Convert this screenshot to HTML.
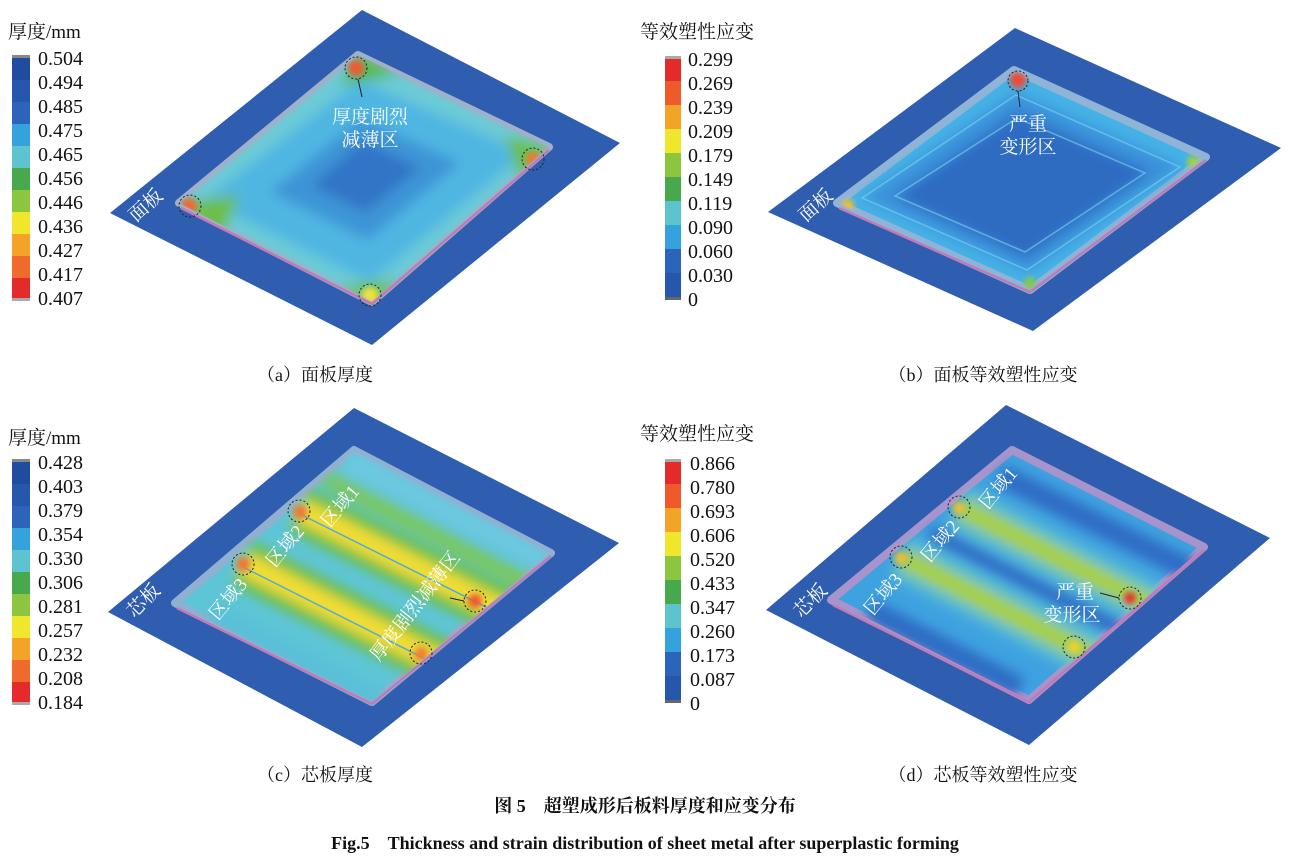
<!DOCTYPE html>
<html><head><meta charset="utf-8"><style>
html,body{margin:0;padding:0;background:#fff;}
svg{display:block;}
.t{font-family:"Liberation Serif","Noto Serif CJK SC","Noto Sans CJK SC",serif;}
</style></head><body>
<svg width="1291" height="864" viewBox="0 0 1291 864" xmlns="http://www.w3.org/2000/svg">
<defs>
<filter id="bl" x="-20%" y="-20%" width="140%" height="140%"><feGaussianBlur stdDeviation="6"/></filter>
<filter id="bl2" x="-20%" y="-20%" width="140%" height="140%"><feGaussianBlur stdDeviation="3"/></filter>
<clipPath id="ca"><polygon points="358,55 549,147 372,302 179,203"/></clipPath>
<clipPath id="cb"><polygon points="1014,70 1206,157 1030,290 837,203"/></clipPath>
<clipPath id="cc"><polygon points="354,450 551,553 372,702 175,603"/></clipPath>
<clipPath id="cd"><polygon points="1012,450 1204,547 1029,700 831,600"/></clipPath>
</defs>

<!-- ===== Panel a ===== -->
<polygon points="362,10 620,143 372,345 110,213" fill="#2f5db0"/>
<polygon points="358,55 549,147 372,302 179,203" fill="#6ccbd6" stroke="#9fb0c8" stroke-width="8" stroke-linejoin="round"/>
<g clip-path="url(#ca)">
<g filter="url(#bl)">
<polygon points="358,55 549,147 372,302 179,203" fill="#6ccbd6"/>
<polygon points="360,80 525,153 370,282 205,200" fill="#4fb6e2"/>
<polygon points="362,118 460,163 368,240 270,192" fill="#3c94d6"/>
<polygon points="363,140 420,168 366,212 312,186" fill="#3174c6"/>
<polygon points="358,55 400,75 340,85" fill="#5cb84a"/>
<polygon points="179,203 240,195 220,240" fill="#6cbf4a"/>
<polygon points="549,147 520,180 505,135" fill="#6cbf4a"/>
<polygon points="372,302 340,285 400,280" fill="#6cbf4a"/>
</g>
<circle cx="356" cy="68" r="8" fill="#f05a30" filter="url(#bl2)"/>
<circle cx="189" cy="206" r="8" fill="#f06a30" filter="url(#bl2)"/>
<circle cx="533" cy="159" r="7" fill="#f07a30" filter="url(#bl2)"/>
<circle cx="370" cy="295" r="8" fill="#f2e040" filter="url(#bl2)"/>
</g>
<polyline points="181,208 372,304 549,150" fill="none" stroke="#c07ab8" stroke-width="2.5"/>
<g fill="none" stroke="#222" stroke-width="1" stroke-dasharray="2,2">
<circle cx="356" cy="68" r="11"/><circle cx="190" cy="206" r="11"/><circle cx="533" cy="159" r="11"/><circle cx="370" cy="295" r="11"/>
</g>
<line x1="358" y1="79" x2="362" y2="97" stroke="#222" stroke-width="1"/>
<text class="t" x="370" y="123" font-size="19" fill="#fff" text-anchor="middle">厚度剧烈</text>
<text class="t" x="370" y="146" font-size="19" fill="#fff" text-anchor="middle">减薄区</text>
<text class="t" x="150" y="210" font-size="19" fill="#fff" transform="rotate(-42 150 210)" text-anchor="middle">面板</text>

<!-- legend a -->
<text class="t" x="8" y="38" font-size="19" fill="#111">厚度/mm</text>
<g>
<rect x="12" y="55" width="18" height="3" fill="#888"/>
<rect x="12" y="58" width="18" height="22" fill="#1f4c9e"/>
<rect x="12" y="80" width="18" height="22" fill="#2657ad"/>
<rect x="12" y="102" width="18" height="22" fill="#2b64ba"/>
<rect x="12" y="124" width="18" height="22" fill="#34a2dc"/>
<rect x="12" y="146" width="18" height="22" fill="#5cc3cf"/>
<rect x="12" y="168" width="18" height="22" fill="#47a94b"/>
<rect x="12" y="190" width="18" height="22" fill="#8cc63f"/>
<rect x="12" y="212" width="18" height="22" fill="#f0e62c"/>
<rect x="12" y="234" width="18" height="22" fill="#f3a328"/>
<rect x="12" y="256" width="18" height="22" fill="#ef6a2b"/>
<rect x="12" y="278" width="18" height="20" fill="#e42a2a"/>
<rect x="12" y="298" width="18" height="3" fill="#aaa"/>
</g>
<g class="t" font-size="20" fill="#111">
<text x="38" y="65">0.504</text><text x="38" y="89">0.494</text><text x="38" y="113">0.485</text><text x="38" y="137">0.475</text><text x="38" y="161">0.465</text><text x="38" y="185">0.456</text><text x="38" y="209">0.446</text><text x="38" y="233">0.436</text><text x="38" y="257">0.427</text><text x="38" y="281">0.417</text><text x="38" y="305">0.407</text>
</g>
<text class="t" x="315" y="381" font-size="18" fill="#111" text-anchor="middle">（a）面板厚度</text>

<!-- ===== Panel b ===== -->
<polygon points="1015,28 1281,148 1033,331 768,212" fill="#2f5db0"/>
<polygon points="1014,70 1206,157 1030,290 837,203" fill="#46b2e6" stroke="#8fb4d8" stroke-width="8" stroke-linejoin="round"/>
<g clip-path="url(#cb)">
<g filter="url(#bl)">
<polygon points="1016,92 1182,166 1028,272 862,198" fill="#3a92da"/>
<polygon points="1018,112 1150,172 1026,258 895,197" fill="#2f6cc2"/>
</g>
<g fill="none" stroke="#7fd4f0" stroke-width="1.5" opacity="0.6">
<polygon points="1016,95 1180,167 1027,270 862,198" stroke-linejoin="round"/>
<polygon points="1017,118 1145,173 1025,252 895,196"/>
</g>
<circle cx="1018" cy="80" r="8" fill="#f04a30" filter="url(#bl2)"/>
<circle cx="848" cy="205" r="6" fill="#f0c030" filter="url(#bl2)"/>
<circle cx="1193" cy="162" r="6" fill="#a8d040" filter="url(#bl2)"/>
<circle cx="1030" cy="283" r="6" fill="#8cc840" filter="url(#bl2)"/>
</g>
<polyline points="839,208 1030,292 1206,160" fill="none" stroke="#c07ab8" stroke-width="2.5"/>
<circle cx="1018" cy="81" r="10" fill="none" stroke="#222" stroke-dasharray="2,2"/>
<line x1="1018" y1="91" x2="1020" y2="107" stroke="#222"/>
<text class="t" x="1028" y="130" font-size="19" fill="#fff" text-anchor="middle">严重</text>
<text class="t" x="1028" y="153" font-size="19" fill="#fff" text-anchor="middle">变形区</text>
<text class="t" x="820" y="210" font-size="19" fill="#fff" transform="rotate(-42 820 210)" text-anchor="middle">面板</text>

<text class="t" x="640" y="38" font-size="19" fill="#111">等效塑性应变</text>
<g>
<rect x="665" y="56" width="16" height="3" fill="#aaa"/>
<rect x="665" y="59" width="16" height="22" fill="#e42a2a"/>
<rect x="665" y="81" width="16" height="24" fill="#ef5a2b"/>
<rect x="665" y="105" width="16" height="24" fill="#f3a328"/>
<rect x="665" y="129" width="16" height="24" fill="#f0e62c"/>
<rect x="665" y="153" width="16" height="24" fill="#8cc63f"/>
<rect x="665" y="177" width="16" height="24" fill="#47a94b"/>
<rect x="665" y="201" width="16" height="24" fill="#5cc3cf"/>
<rect x="665" y="225" width="16" height="24" fill="#34a2dc"/>
<rect x="665" y="249" width="16" height="24" fill="#2b64ba"/>
<rect x="665" y="273" width="16" height="24" fill="#2657ad"/>
<rect x="665" y="297" width="16" height="3" fill="#666"/>
</g>
<g class="t" font-size="20" fill="#111">
<text x="688" y="66">0.299</text><text x="688" y="90">0.269</text><text x="688" y="114">0.239</text><text x="688" y="138">0.209</text><text x="688" y="162">0.179</text><text x="688" y="186">0.149</text><text x="688" y="210">0.119</text><text x="688" y="234">0.090</text><text x="688" y="258">0.060</text><text x="688" y="282">0.030</text><text x="688" y="306">0</text>
</g>
<text class="t" x="983" y="381" font-size="18" fill="#111" text-anchor="middle">（b）面板等效塑性应变</text>

<!-- ===== Panel c ===== -->
<polygon points="354,408 619,543 362,747 108,612" fill="#2f5db0"/>
<polygon points="354,450 551,553 372,702 175,603" fill="#5ec5d6" stroke="#8fb0d0" stroke-width="8" stroke-linejoin="round"/>
<g clip-path="url(#cc)">
<g filter="url(#bl)">
<polygon points="354,450 551,553 540,570 340,470" fill="#6cc8e0"/>
<line x1="325" y1="478" x2="540" y2="590" stroke="#7cc85a" stroke-width="16"/>
<line x1="300" y1="510" x2="520" y2="620" stroke="#6cbf48" stroke-width="48"/>
<line x1="300" y1="510" x2="520" y2="620" stroke="#f2dc34" stroke-width="24"/>
<line x1="243" y1="563" x2="465" y2="675" stroke="#6cbf48" stroke-width="48"/>
<line x1="243" y1="563" x2="465" y2="675" stroke="#f2dc34" stroke-width="24"/>
<line x1="210" y1="612" x2="380" y2="700" stroke="#58c0d8" stroke-width="20"/>
</g>
<line x1="300" y1="514" x2="520" y2="624" stroke="#4ab0d8" stroke-width="1.5"/>
<line x1="243" y1="567" x2="465" y2="679" stroke="#4ab0d8" stroke-width="1.5"/>
<circle cx="300" cy="512" r="7" fill="#f07830" filter="url(#bl2)"/>
<circle cx="243" cy="564" r="7" fill="#f07830" filter="url(#bl2)"/>
<circle cx="475" cy="601" r="7" fill="#f05a30" filter="url(#bl2)"/>
<circle cx="421" cy="654" r="7" fill="#f08030" filter="url(#bl2)"/>
</g>
<polyline points="177,608 372,704 551,556" fill="none" stroke="#c07ab8" stroke-width="2.5"/>
<g fill="none" stroke="#222" stroke-dasharray="2,2">
<circle cx="299" cy="511" r="11"/><circle cx="243" cy="564" r="11"/><circle cx="475" cy="601" r="11"/><circle cx="421" cy="653" r="11"/>
</g>
<line x1="450" y1="598" x2="464" y2="601" stroke="#222"/>
<g class="t" font-size="19" fill="#fff">
<text x="345" y="510" transform="rotate(-50 345 510)" text-anchor="middle">区域1</text>
<text x="290" y="550" transform="rotate(-50 290 550)" text-anchor="middle">区域2</text>
<text x="233" y="603" transform="rotate(-50 233 603)" text-anchor="middle">区域3</text>
<text x="420" y="610" transform="rotate(-52 420 610)" text-anchor="middle">厚度剧烈减薄区</text>
<text x="148" y="605" transform="rotate(-45 148 605)" text-anchor="middle">芯板</text>
</g>

<text class="t" x="8" y="444" font-size="19" fill="#111">厚度/mm</text>
<g>
<rect x="12" y="459" width="18" height="3" fill="#888"/>
<rect x="12" y="462" width="18" height="22" fill="#1f4c9e"/>
<rect x="12" y="484" width="18" height="22" fill="#2657ad"/>
<rect x="12" y="506" width="18" height="22" fill="#2b64ba"/>
<rect x="12" y="528" width="18" height="22" fill="#34a2dc"/>
<rect x="12" y="550" width="18" height="22" fill="#5cc3cf"/>
<rect x="12" y="572" width="18" height="22" fill="#47a94b"/>
<rect x="12" y="594" width="18" height="22" fill="#8cc63f"/>
<rect x="12" y="616" width="18" height="22" fill="#f0e62c"/>
<rect x="12" y="638" width="18" height="22" fill="#f3a328"/>
<rect x="12" y="660" width="18" height="22" fill="#ef6a2b"/>
<rect x="12" y="682" width="18" height="20" fill="#e42a2a"/>
<rect x="12" y="702" width="18" height="3" fill="#aaa"/>
</g>
<g class="t" font-size="20" fill="#111">
<text x="38" y="469">0.428</text><text x="38" y="493">0.403</text><text x="38" y="517">0.379</text><text x="38" y="541">0.354</text><text x="38" y="565">0.330</text><text x="38" y="589">0.306</text><text x="38" y="613">0.281</text><text x="38" y="637">0.257</text><text x="38" y="661">0.232</text><text x="38" y="685">0.208</text><text x="38" y="709">0.184</text>
</g>
<text class="t" x="315" y="781" font-size="18" fill="#111" text-anchor="middle">（c）芯板厚度</text>

<!-- ===== Panel d ===== -->
<polygon points="1006,405 1270,538 1029,745 766,610" fill="#2f5db0"/>
<polygon points="1012,450 1204,547 1029,700 831,600" fill="#3fa2e0" stroke="#a894cc" stroke-width="8" stroke-linejoin="round"/>
<g clip-path="url(#cd)">
<g filter="url(#bl)">
<line x1="1000" y1="475" x2="1200" y2="575" stroke="#2f6cc4" stroke-width="22"/>
<line x1="959" y1="507" x2="1180" y2="620" stroke="#5cc0d0" stroke-width="44"/>
<line x1="959" y1="507" x2="1180" y2="620" stroke="#a8d038" stroke-width="20"/>
<line x1="930" y1="532" x2="1150" y2="645" stroke="#2f6cc4" stroke-width="14"/>
<line x1="901" y1="557" x2="1120" y2="670" stroke="#5cc0d0" stroke-width="44"/>
<line x1="901" y1="557" x2="1120" y2="670" stroke="#a8d038" stroke-width="20"/>
<line x1="870" y1="610" x2="1020" y2="688" stroke="#2f6cc4" stroke-width="22"/>
</g>
<circle cx="1130" cy="598" r="6" fill="#e83030" filter="url(#bl2)"/>
<circle cx="1074" cy="647" r="6" fill="#f0d030" filter="url(#bl2)"/>
<circle cx="959" cy="508" r="6" fill="#f0c030" filter="url(#bl2)"/>
<circle cx="901" cy="558" r="6" fill="#f0c030" filter="url(#bl2)"/>
</g>
<polyline points="833,605 1029,702 1204,550" fill="none" stroke="#c07ab8" stroke-width="2.5"/>
<g fill="none" stroke="#222" stroke-dasharray="2,2">
<circle cx="959" cy="507" r="11"/><circle cx="901" cy="557" r="11"/><circle cx="1130" cy="598" r="11"/><circle cx="1074" cy="647" r="11"/>
</g>
<line x1="1100" y1="593" x2="1119" y2="598" stroke="#222"/>
<g class="t" font-size="19" fill="#fff">
<text x="1003" y="492" transform="rotate(-50 1003 492)" text-anchor="middle">区域1</text>
<text x="945" y="545" transform="rotate(-50 945 545)" text-anchor="middle">区域2</text>
<text x="888" y="598" transform="rotate(-50 888 598)" text-anchor="middle">区域3</text>
<text x="815" y="605" transform="rotate(-45 815 605)" text-anchor="middle">芯板</text>
<text x="1075" y="598" text-anchor="middle">严重</text>
<text x="1072" y="621" text-anchor="middle">变形区</text>
</g>

<text class="t" x="640" y="440" font-size="19" fill="#111">等效塑性应变</text>
<g>
<rect x="665" y="459" width="16" height="3" fill="#aaa"/>
<rect x="665" y="462" width="16" height="22" fill="#e42a2a"/>
<rect x="665" y="484" width="16" height="24" fill="#ef5a2b"/>
<rect x="665" y="508" width="16" height="24" fill="#f3a328"/>
<rect x="665" y="532" width="16" height="24" fill="#f0e62c"/>
<rect x="665" y="556" width="16" height="24" fill="#8cc63f"/>
<rect x="665" y="580" width="16" height="24" fill="#47a94b"/>
<rect x="665" y="604" width="16" height="24" fill="#5cc3cf"/>
<rect x="665" y="628" width="16" height="24" fill="#34a2dc"/>
<rect x="665" y="652" width="16" height="24" fill="#2b64ba"/>
<rect x="665" y="676" width="16" height="24" fill="#2657ad"/>
<rect x="665" y="700" width="16" height="3" fill="#666"/>
</g>
<g class="t" font-size="20" fill="#111">
<text x="690" y="470">0.866</text><text x="690" y="494">0.780</text><text x="690" y="518">0.693</text><text x="690" y="542">0.606</text><text x="690" y="566">0.520</text><text x="690" y="590">0.433</text><text x="690" y="614">0.347</text><text x="690" y="638">0.260</text><text x="690" y="662">0.173</text><text x="690" y="686">0.087</text><text x="690" y="710">0</text>
</g>
<text class="t" x="983" y="781" font-size="18" fill="#111" text-anchor="middle">（d）芯板等效塑性应变</text>

<!-- Figure title -->
<text class="t" x="645" y="812" font-size="18" font-weight="bold" fill="#111" text-anchor="middle">图 5　超塑成形后板料厚度和应变分布</text>
<text class="t" x="645" y="849" font-size="18" font-weight="bold" fill="#111" text-anchor="middle">Fig.5　Thickness and strain distribution of sheet metal after superplastic forming</text>
</svg>
</body></html>
